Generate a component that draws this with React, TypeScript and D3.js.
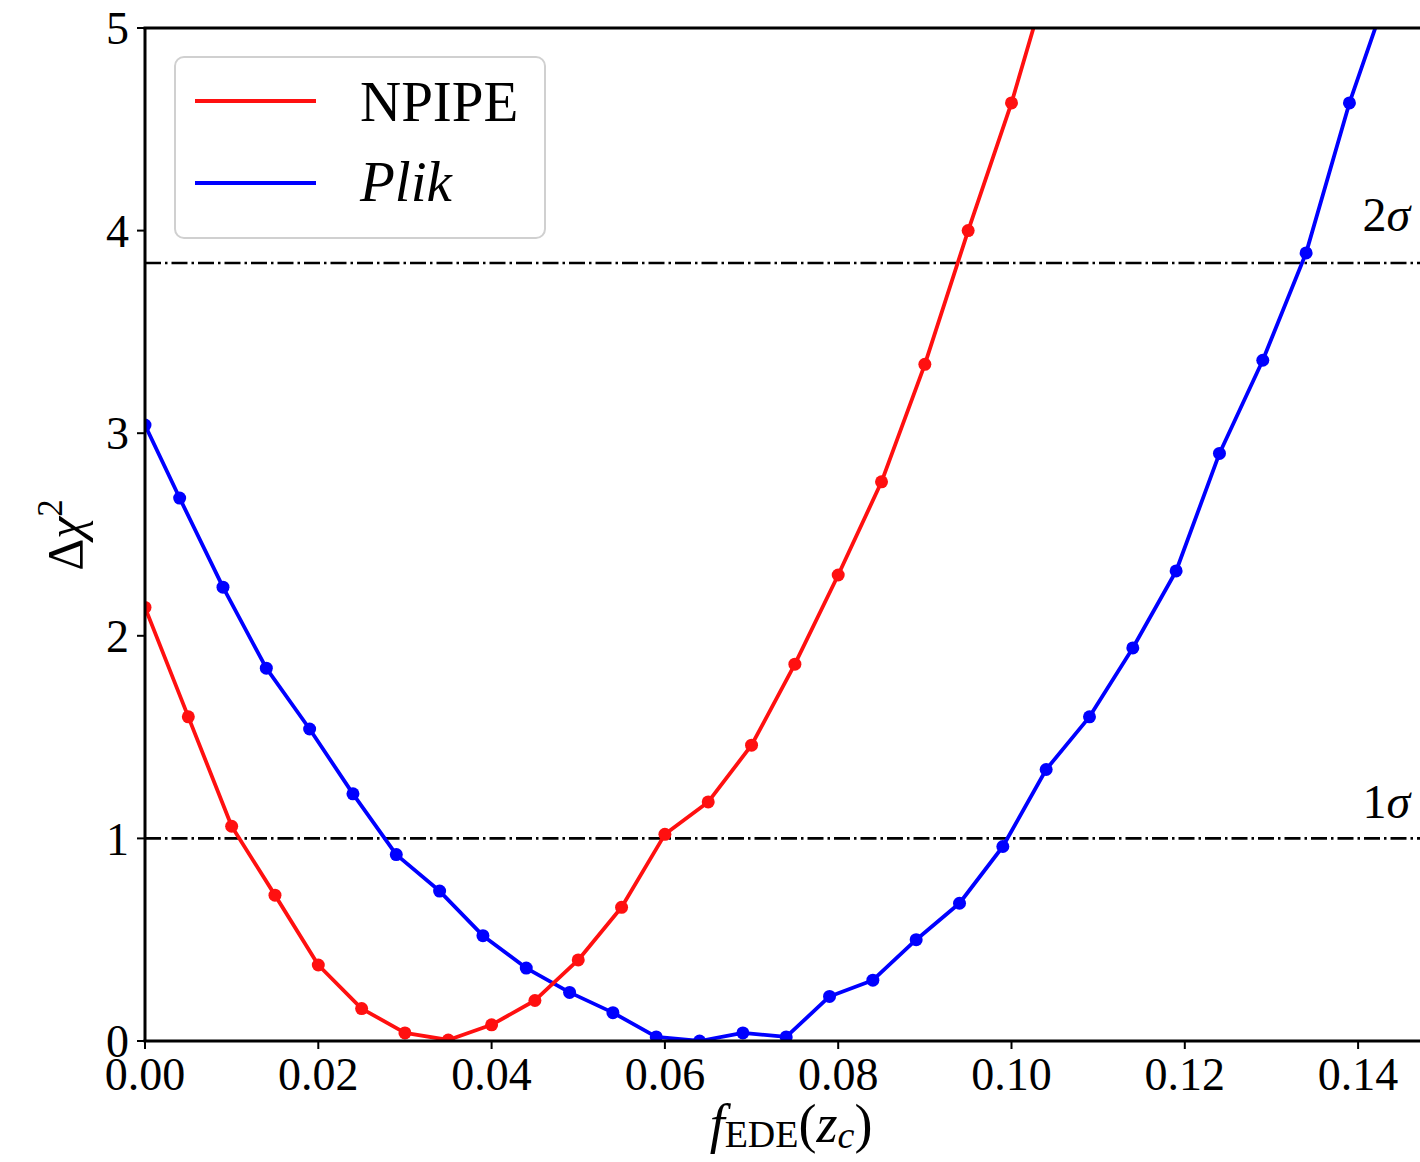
import React from "react";
import * as d3 from "d3";

const npipeX = [0.0, 0.005, 0.01, 0.015, 0.02, 0.025, 0.03, 0.035, 0.04, 0.045, 0.05, 0.055, 0.06, 0.065, 0.07, 0.075, 0.08, 0.085, 0.09, 0.095, 0.1, 0.105];
const npipeY = [2.14, 1.6, 1.06, 0.72, 0.375, 0.16, 0.04, 0.005, 0.08, 0.2, 0.4, 0.66, 1.02, 1.18, 1.46, 1.86, 2.3, 2.76, 3.34, 4.0, 4.63, 5.36];

const plikX = [0.0, 0.004, 0.009, 0.014, 0.019, 0.024, 0.029, 0.034, 0.039, 0.044, 0.049, 0.054, 0.059, 0.064, 0.069, 0.074, 0.079, 0.084, 0.089, 0.094, 0.099, 0.104, 0.109, 0.114, 0.119, 0.124, 0.129, 0.134, 0.139, 0.144];
const plikY = [3.04, 2.68, 2.24, 1.84, 1.54, 1.22, 0.92, 0.74, 0.52, 0.36, 0.24, 0.14, 0.02, 0.0, 0.04, 0.02, 0.22, 0.3, 0.5, 0.68, 0.96, 1.34, 1.6, 1.94, 2.32, 2.9, 3.36, 3.89, 4.63, 5.25];

const xTicks = [0, 0.02, 0.04, 0.06, 0.08, 0.1, 0.12, 0.14];
const yTicks = [0, 1, 2, 3, 4, 5];
const sigmaLevels = [1, 3.84];
const sigmaLabels = ["1", "2"];
const sigmaLabelY = [1.1, 4.0];

const W = 1420;
const H = 1162;
const FONT = '"Liberation Serif", "DejaVu Serif", serif';

export default function App() {
  const x = d3.scaleLinear().domain([0, 0.15]).range([145, 145 + 0.15 * 8665]);
  const y = d3.scaleLinear().domain([0, 5]).range([1041, 28]);
  const [x0, x1] = x.range();
  const [yb, yt] = y.range();

  const line = d3
    .line<[number, number]>()
    .x((d) => x(d[0]))
    .y((d) => y(d[1]));

  const npipe: [number, number][] = npipeX.map((v, i) => [v, npipeY[i]]);
  const plik: [number, number][] = plikX.map((v, i) => [v, plikY[i]]);

  const series = [
    { data: plik, color: "#0000ff" },
    { data: npipe, color: "#ff1010" },
  ];

  return (
    <svg
      width={W}
      height={H}
      style={{ position: "absolute", left: 0, top: 0, background: "#fff", fontFamily: FONT }}
    >
      <defs>
        <clipPath id="plotClip">
          <rect x={x0} y={yt} width={x1 - x0} height={yb - yt} />
        </clipPath>
      </defs>
      <rect x={0} y={0} width={W} height={H} fill="#fff" />

      {/* sigma lines */}
      {sigmaLevels.map((s) => (
        <line
          key={s}
          x1={x0}
          x2={x1}
          y1={y(s)}
          y2={y(s)}
          stroke="#000"
          strokeWidth={2.6}
          strokeDasharray="16,4,2.5,4"
        />
      ))}

      <g clipPath="url(#plotClip)">
        {series.map((s, si) => (
          <g key={si}>
            <path d={line(s.data) || ""} fill="none" stroke={s.color} strokeWidth={3.8} strokeLinejoin="round" />
            {s.data.map((d, i) => (
              <circle key={i} cx={x(d[0])} cy={y(d[1])} r={6.5} fill={s.color} />
            ))}
          </g>
        ))}
      </g>

      {/* sigma labels */}
      {sigmaLevels.map((s, i) => (
        <text key={"sl" + i} x={x(0.1405)} y={y(sigmaLabelY[i])} fontSize={48} fill="#000">
          {sigmaLabels[i]}
          <tspan fontStyle="italic">σ</tspan>
        </text>
      ))}

      {/* spines */}
      <line x1={x0} x2={x0} y1={yt} y2={yb} stroke="#000" strokeWidth={3} />
      <line x1={x0 - 1.5} x2={x1} y1={yb} y2={yb} stroke="#000" strokeWidth={3} />
      <line x1={x0 - 1.5} x2={x1} y1={yt} y2={yt} stroke="#000" strokeWidth={3} />

      {/* x ticks */}
      {xTicks.map((t) => (
        <g key={"xt" + t}>
          <line x1={x(t)} x2={x(t)} y1={yb} y2={yb + 8} stroke="#000" strokeWidth={2} />
          <text x={x(t)} y={1090} fontSize={46} textAnchor="middle" fill="#000">
            {d3.format(".2f")(t)}
          </text>
        </g>
      ))}

      {/* y ticks */}
      {yTicks.map((t) => (
        <g key={"yt" + t}>
          <line x1={x0 - 8} x2={x0} y1={y(t)} y2={y(t)} stroke="#000" strokeWidth={2} />
          <text x={129} y={y(t)} dy="0.35em" fontSize={46} textAnchor="end" fill="#000">
            {t}
          </text>
        </g>
      ))}

      {/* axis labels */}
      <text x={791} y={1142} fontSize={54} textAnchor="middle" fill="#000">
        <tspan fontStyle="italic">f</tspan>
        <tspan fontSize={38} dy={5}>EDE</tspan>
        <tspan dy={-5}>(</tspan>
        <tspan fontStyle="italic">z</tspan>
        <tspan fontStyle="italic" fontSize={38} dy={6}>c</tspan>
        <tspan dy={-6}>)</tspan>
      </text>
      <text transform="translate(82,535) rotate(-90)" fontSize={50} textAnchor="middle" fill="#000">
        Δ<tspan fontStyle="italic">χ</tspan>
        <tspan fontSize={35} dy={-20}>2</tspan>
      </text>

      {/* legend */}
      <rect x={175} y={57} width={370} height={181} rx={9} fill="#fff" fillOpacity={0.8} stroke="#d0d0d0" strokeWidth={2} />
      <line x1={195} x2={316} y1={101} y2={101} stroke="#ff1010" strokeWidth={3.8} />
      <line x1={195} x2={316} y1={183} y2={183} stroke="#0000ff" strokeWidth={3.8} />
      <text x={360} y={121} fontSize={57} fill="#000">NPIPE</text>
      <text x={360} y={201} fontSize={57} fontStyle="italic" fill="#000">Plik</text>
    </svg>
  );
}
